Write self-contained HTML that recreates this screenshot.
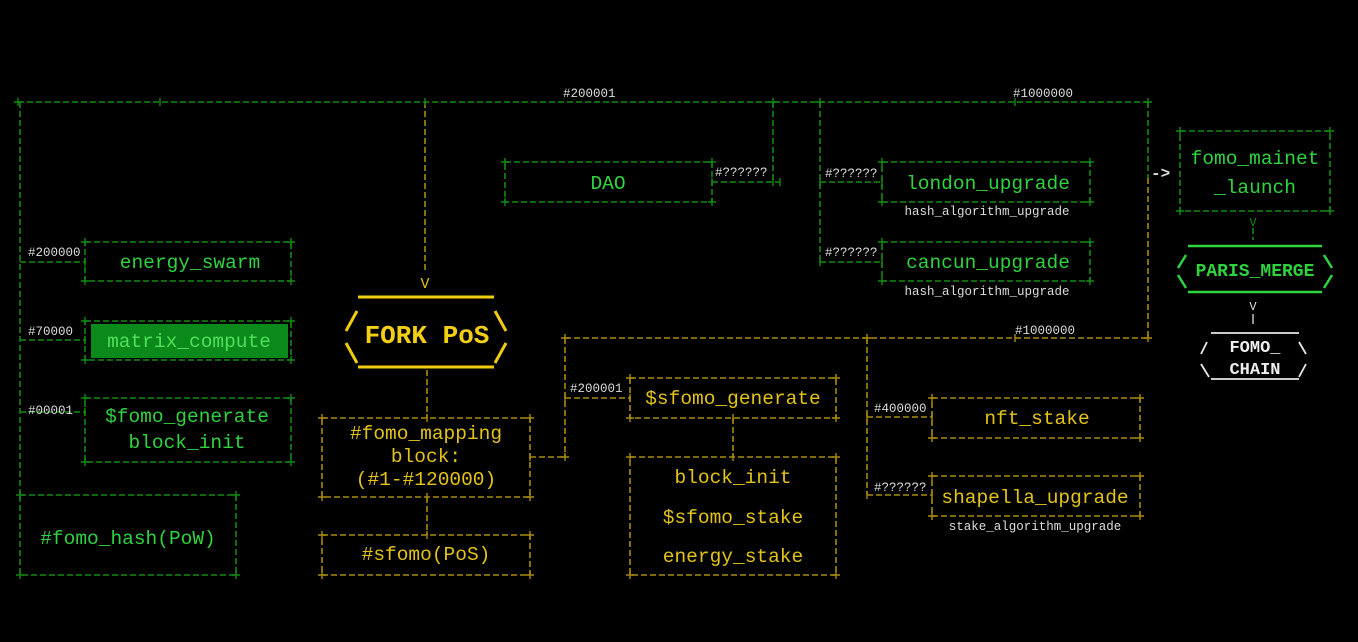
<!DOCTYPE html>
<html><head><meta charset="utf-8"><style>
html,body{margin:0;padding:0;background:#000;}
svg{display:block;}
.g{stroke:#128a12;stroke-width:1.6;stroke-dasharray:6 3;fill:none}
.y{stroke:#a88a0c;stroke-width:1.6;stroke-dasharray:6 3;fill:none}
.gt{fill:#2fd33f;font-family:"Liberation Mono",monospace;font-size:19.5px;text-anchor:middle}
.yt{fill:#e3c317;font-family:"Liberation Mono",monospace;font-size:19.5px;text-anchor:middle}
.lb{fill:#dddddd;font-family:"Liberation Mono",monospace;font-size:12.5px}
.sb{fill:#dddddd;font-family:"Liberation Mono",monospace;font-size:12.5px;text-anchor:middle}
</style></head><body>
<svg width="1358" height="642" viewBox="0 0 1358 642" xmlns="http://www.w3.org/2000/svg">
<rect width="1358" height="642" fill="#000"/>
<path class="g" d="M18 102H1148 M20 102V495 M773 102V182 M820 102V262 M1148 102V178"/>
<path class="g" d="M20 262H85 M20 340H85 M20 412H85"/>
<rect class="g" x="85" y="242" width="206" height="39"/>
<rect class="g" x="85" y="321" width="206" height="39"/>
<rect x="91" y="324" width="197" height="34" fill="#0b8a1b"/>
<rect class="g" x="85" y="398" width="206" height="64"/>
<rect class="g" x="20" y="495" width="216" height="80"/>
<rect class="g" x="505" y="162" width="207" height="40"/>
<path class="g" d="M712 182H780 M820 182H882 M820 262H882"/>
<rect class="g" x="882" y="162" width="208" height="40"/>
<rect class="g" x="882" y="242" width="208" height="39"/>
<rect class="g" x="1180" y="131" width="150" height="80"/>
<path class="g" d="M1253 228V240"/>
<path class="y" d="M425 102V272 M427 370V418 M427 497V535 M530 457H565 M565 338V457 M565 338H1148 M1148 178V338 M565 398H630 M733 418V457 M867 338V495 M867 417H932 M867 495H932"/>
<rect class="y" x="322" y="418" width="208" height="79"/>
<rect class="y" x="322" y="535" width="208" height="40"/>
<rect class="y" x="630" y="378" width="206" height="40"/>
<rect class="y" x="630" y="457" width="206" height="118"/>
<rect class="y" x="932" y="398" width="208" height="40"/>
<rect class="y" x="932" y="476" width="208" height="40"/>
<g stroke="#128a12" stroke-width="1.4">
<path d="M18 98v8M14 102h8 M425 98v8 M773 98v8M769 102h8 M820 98v8M816 102h8 M1148 98v8M1144 102h8 M160 98v8 M1015 98v8 M85 238v8M81 242h8 M291 238v8M287 242h8 M85 277v8M81 281h8 M291 277v8M287 281h8 M85 258v8 M85 317v8M81 321h8 M291 317v8M287 321h8 M85 356v8M81 360h8 M291 356v8M287 360h8 M85 336v8 M85 394v8M81 398h8 M291 394v8M287 398h8 M85 458v8M81 462h8 M291 458v8M287 462h8 M85 408v8 M20 491v8M16 495h8 M236 491v8M232 495h8 M20 571v8M16 575h8 M236 571v8M232 575h8 M505 158v8M501 162h8 M712 158v8M708 162h8 M505 198v8M501 202h8 M712 198v8M708 202h8 M712 178v8 M780 178v8 M773 178v8 M820 178v8 M882 158v8M878 162h8 M1090 158v8M1086 162h8 M882 198v8M878 202h8 M1090 198v8M1086 202h8 M882 178v8 M882 238v8M878 242h8 M1090 238v8M1086 242h8 M882 277v8M878 281h8 M1090 277v8M1086 281h8 M882 258v8 M820 258v8 M1180 127v8M1176 131h8 M1330 127v8M1326 131h8 M1180 207v8M1176 211h8 M1330 207v8M1326 211h8"/>
</g>
<g stroke="#a88a0c" stroke-width="1.4">
<path d="M322 414v8M318 418h8 M530 414v8M526 418h8 M427 414v8 M322 493v8M318 497h8 M530 493v8M526 497h8 M427 493v8 M530 453v8 M565 453v8M561 457h8 M322 531v8M318 535h8 M530 531v8M526 535h8 M427 531v8 M322 571v8M318 575h8 M530 571v8M526 575h8 M565 334v8M561 338h8 M867 334v8M863 338h8 M1148 334v8M1144 338h8 M1015 334v8 M565 394v8 M630 374v8M626 378h8 M836 374v8M832 378h8 M630 394v8 M630 414v8M626 418h8 M836 414v8M832 418h8 M733 414v8 M630 453v8M626 457h8 M836 453v8M832 457h8 M733 453v8 M630 571v8M626 575h8 M836 571v8M832 575h8 M867 413v8 M867 491v8 M932 394v8M928 398h8 M1140 394v8M1136 398h8 M932 434v8M928 438h8 M1140 434v8M1136 438h8 M932 413v8 M932 472v8M928 476h8 M1140 472v8M1136 476h8 M932 512v8M928 516h8 M1140 512v8M1136 516h8 M932 491v8"/>
</g>
<g stroke="#f0cc10" stroke-width="3" fill="none">
<path d="M358 297H494 M358 367H494 M357 311L346 331 M346 343L357 363 M495 311L506 331 M506 343L495 363"/>
</g>
<text x="427" y="343" text-anchor="middle" font-family="Liberation Mono,monospace" font-weight="bold" font-size="26" fill="#f2cf12">FORK PoS</text>
<text x="425" y="288" class="yt" style="font-size:15px">V</text>
<g stroke="#2fd33f" stroke-width="2.5" fill="none">
<path d="M1188 246H1322 M1188 292H1322 M1186 255L1178 268 M1178 275L1186 288 M1324 255L1332 268 M1332 275L1324 288"/>
</g>
<text x="1255" y="276" text-anchor="middle" font-family="Liberation Mono,monospace" font-weight="bold" font-size="18" fill="#2fd33f">PARIS_MERGE</text>
<text x="1253" y="226" class="gt" style="font-size:12px;fill:#128a12">V</text>
<text x="1253" y="310" class="sb" style="font-size:12px">V</text>
<path d="M1253 314V324" stroke="#ddd" stroke-width="1.3"/>
<g stroke="#e8e8e8" stroke-width="1.8" fill="none">
<path d="M1211 333H1299 M1211 379H1299 M1207 342L1201 354 M1201 364L1209 377 M1299 342L1306 354 M1306 364L1299 377"/>
</g>
<text x="1255" y="352" text-anchor="middle" font-family="Liberation Mono,monospace" font-weight="bold" font-size="17" fill="#eee">FOMO_</text>
<text x="1255" y="374" text-anchor="middle" font-family="Liberation Mono,monospace" font-weight="bold" font-size="17" fill="#eee">CHAIN</text>
<text x="1151" y="178" class="lb" style="font-size:16px;font-weight:bold">-&gt;</text>
<text x="190" y="268" class="gt">energy_swarm</text>
<text x="189" y="347" class="gt" style="fill:#4fe05a">matrix_compute</text>
<text x="187" y="422" class="gt">$fomo_generate</text>
<text x="187" y="448" class="gt">block_init</text>
<text x="128" y="544" class="gt">#fomo_hash(PoW)</text>
<text x="608" y="189" class="gt">DAO</text>
<text x="988" y="189" class="gt">london_upgrade</text>
<text x="988" y="268" class="gt">cancun_upgrade</text>
<text x="1255" y="164" class="gt">fomo_mainet</text>
<text x="1255" y="193" class="gt">_launch</text>
<text x="426" y="439" class="yt">#fomo_mapping</text>
<text x="426" y="462" class="yt">block:</text>
<text x="426" y="485" class="yt">(#1-#120000)</text>
<text x="426" y="560" class="yt">#sfomo(PoS)</text>
<text x="733" y="404" class="yt">$sfomo_generate</text>
<text x="733" y="483" class="yt">block_init</text>
<text x="733" y="523" class="yt">$sfomo_stake</text>
<text x="733" y="562" class="yt">energy_stake</text>
<text x="1037" y="424" class="yt">nft_stake</text>
<text x="1035" y="503" class="yt">shapella_upgrade</text>
<text x="563" y="97" class="lb">#200001</text>
<text x="1013" y="97" class="lb">#1000000</text>
<text x="28" y="256" class="lb">#200000</text>
<text x="28" y="335" class="lb">#70000</text>
<text x="28" y="414" class="lb">#00001</text>
<text x="715" y="176" class="lb">#??????</text>
<text x="825" y="177" class="lb">#??????</text>
<text x="825" y="256" class="lb">#??????</text>
<text x="987" y="215" class="sb">hash_algorithm_upgrade</text>
<text x="987" y="295" class="sb">hash_algorithm_upgrade</text>
<text x="1015" y="334" class="lb">#1000000</text>
<text x="570" y="392" class="lb">#200001</text>
<text x="874" y="412" class="lb">#400000</text>
<text x="874" y="491" class="lb">#??????</text>
<text x="1035" y="530" class="sb">stake_algorithm_upgrade</text>
</svg>
</body></html>
